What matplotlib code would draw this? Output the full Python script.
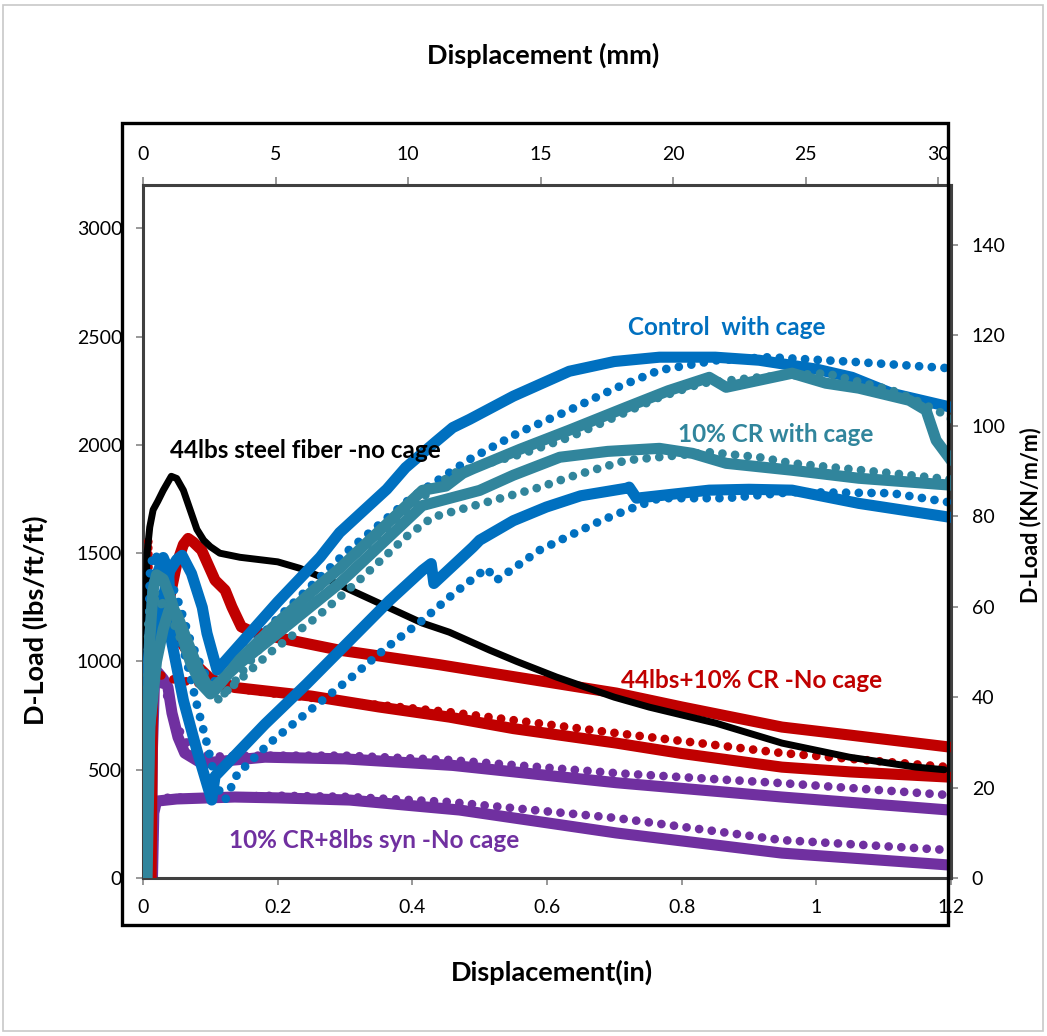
import matplotlib
matplotlib.use("Agg")
import matplotlib.pyplot as plt
from matplotlib.patches import Rectangle

plt.rcParams['font.family'] = ['Lato', 'DejaVu Sans']

# --- data: displacement (in) vs D-load (lbs/ft/ft) ---
steel44_x = [0, 0.002, 0.004, 0.006, 0.01, 0.015, 0.022, 0.03, 0.042, 0.05, 0.06, 0.07, 0.08, 0.09,
             0.1, 0.114, 0.144, 0.2, 0.233, 0.28, 0.341, 0.415, 0.455, 0.515, 0.555, 0.614, 0.7,
             0.752, 0.851, 0.949, 1.049, 1.148, 1.19]
steel44_y = [0, 600, 1200, 1500, 1620, 1700, 1740, 1790, 1855, 1845, 1790, 1700, 1610, 1560,
             1530, 1500, 1481, 1460, 1430, 1370, 1283, 1177, 1135, 1052, 1000, 928, 835,
             789, 715, 623, 558, 512, 500]

cr44_a_x = [0.008, 0.01, 0.013, 0.02, 0.03, 0.04, 0.05, 0.06, 0.067, 0.075, 0.087, 0.107, 0.122,
            0.132, 0.146, 0.16, 0.2, 0.292, 0.44, 0.55, 0.703, 0.8, 0.949, 1.05, 1.197]
cr44_a_y = [0, 900, 1250, 1300, 1230, 1300, 1450, 1540, 1568, 1550, 1514, 1375, 1329,
            1252, 1160, 1140, 1110, 1052, 985, 930, 854, 790, 697, 660, 605]
cr44_b_x = [0.012, 0.014, 0.018, 0.025, 0.035, 0.047, 0.058, 0.08, 0.1, 0.136, 0.25, 0.35, 0.455,
            0.55, 0.703, 0.8, 0.949, 1.05, 1.197]
cr44_b_y = [0, 800, 1150, 1250, 1200, 1145, 1084, 980, 920, 880, 840, 790, 743,
            690, 623, 575, 512, 490, 466]
cr44_dot_x = [0.007, 0.0074, 0.0078, 0.009, 0.015, 0.04, 0.1, 0.2, 0.3, 0.455, 0.703, 0.949, 1.197]
cr44_dot_y = [0, 800, 1568, 1100, 950, 920, 890, 850, 815, 766, 669, 577, 512]

ctrl_a_x = [0.004, 0.01, 0.02, 0.03, 0.04, 0.05, 0.058, 0.072, 0.088, 0.095, 0.11, 0.114, 0.16,
            0.2, 0.263, 0.292, 0.362, 0.39, 0.435, 0.46, 0.485, 0.55, 0.633, 0.7, 0.767, 0.85,
            0.915, 1.0, 1.053, 1.112, 1.2]
ctrl_a_y = [0, 700, 1100, 1300, 1420, 1470, 1490, 1406, 1250, 1130, 960, 974, 1135,
            1275, 1481, 1595, 1795, 1895, 2015, 2080, 2118, 2225, 2340, 2385, 2405, 2405,
            2391, 2350, 2312, 2238, 2174]
ctrl_b_x = [0.004, 0.008, 0.015, 0.03, 0.038, 0.042, 0.06, 0.08, 0.102, 0.107, 0.181, 0.243, 0.366,
            0.415, 0.428, 0.432, 0.49, 0.5, 0.55, 0.599, 0.65, 0.718, 0.722, 0.733, 0.841, 0.9,
            0.964, 1.063, 1.2]
ctrl_b_y = [0, 1000, 1350, 1480, 1420, 1100, 820, 590, 360, 470, 710, 896, 1281,
            1421, 1452, 1360, 1528, 1560, 1650, 1713, 1765, 1800, 1805, 1754, 1791, 1795,
            1791, 1730, 1665]
ctrl_dot_a_x = [0.005, 0.008, 0.01, 0.015, 0.03, 0.05, 0.07, 0.09, 0.11, 0.2, 0.3, 0.4, 0.486,
                0.56, 0.633, 0.7, 0.767, 0.85, 0.93, 1.063, 1.197]
ctrl_dot_a_y = [0, 900, 1400, 1500, 1450, 1300, 1100, 950, 900, 1200, 1500, 1760, 1935,
                2060, 2160, 2260, 2345, 2390, 2405, 2382, 2354]
ctrl_dot_b_x = [0.003, 0.006, 0.01, 0.02, 0.035, 0.05, 0.065, 0.08, 0.095, 0.11, 0.122, 0.14, 0.188,
                0.25, 0.307, 0.36, 0.415, 0.46, 0.51, 0.525, 0.589, 0.633, 0.68, 0.718, 0.767,
                0.866, 0.964, 1.112, 1.197]
ctrl_dot_b_y = [0, 800, 1300, 1470, 1350, 1150, 1000, 800, 620, 420, 360, 480, 623,
                780, 920, 1060, 1190, 1310, 1430, 1375, 1514, 1580, 1650, 1698, 1754,
                1754, 1782, 1777, 1735]

cr10_a_x = [0.005, 0.007, 0.01, 0.015, 0.02, 0.03, 0.04, 0.055, 0.07, 0.085, 0.1, 0.105, 0.144,
            0.2, 0.25, 0.292, 0.35, 0.415, 0.45, 0.475, 0.49, 0.56, 0.633, 0.718, 0.78, 0.841,
            0.866, 0.964, 1.014, 1.063, 1.138, 1.163, 1.178, 1.2]
cr10_a_y = [0, 600, 1100, 1330, 1400, 1380, 1300, 1150, 1000, 900, 850, 860, 1010,
            1180, 1320, 1430, 1600, 1790, 1810, 1869, 1890, 1980, 2068, 2174, 2250, 2312,
            2266, 2331, 2285, 2262, 2206, 2160, 2021, 1929]
cr10_b_x = [0.006, 0.01, 0.02, 0.03, 0.04, 0.05, 0.065, 0.08, 0.095, 0.105, 0.144, 0.2, 0.292,
            0.35, 0.415, 0.5, 0.55, 0.619, 0.69, 0.767, 0.816, 0.866, 0.964, 1.063, 1.2]
cr10_b_y = [0, 700, 1000, 1150, 1250, 1220, 1100, 980, 890, 880, 992, 1130, 1361,
            1530, 1720, 1790, 1860, 1943, 1970, 1984, 1961, 1915, 1883, 1846, 1814]
cr10_dot_a_x = [0.004, 0.006, 0.008, 0.015, 0.03, 0.05, 0.07, 0.09, 0.11, 0.13, 0.2, 0.3, 0.4,
                0.46, 0.564, 0.633, 0.668, 0.767, 0.83, 0.915, 1.014, 1.112, 1.138, 1.187, 1.2]
cr10_dot_a_y = [0, 700, 1200, 1330, 1250, 1150, 990, 880, 820, 880, 1170, 1450, 1720,
                1869, 1960, 2035, 2083, 2220, 2285, 2312, 2331, 2252, 2220, 2146, 2120]
cr10_dot_b_x = [0.005, 0.008, 0.012, 0.02, 0.035, 0.05, 0.07, 0.09, 0.11, 0.12, 0.193, 0.258,
                0.326, 0.39, 0.43, 0.504, 0.589, 0.633, 0.718, 0.841, 0.915, 0.964, 1.112, 1.2]
cr10_dot_b_y = [0, 900, 1250, 1300, 1250, 1150, 1000, 900, 860, 850, 1052, 1205,
                1389, 1574, 1666, 1730, 1804, 1851, 1929, 1966, 1943, 1915, 1869, 1840]

syn_a_x = [0.012, 0.014, 0.017, 0.022, 0.03, 0.037, 0.043, 0.052, 0.062, 0.087, 0.136, 0.181,
           0.3, 0.46, 0.703, 0.949, 1.197]
syn_a_y = [0, 600, 900, 950, 920, 881, 762, 650, 577, 530, 545, 558,
           550, 520, 440, 374, 314]
syn_b_x = [0.014, 0.016, 0.02, 0.05, 0.136, 0.2, 0.307, 0.47, 0.703, 0.949, 1.197]
syn_b_y = [0, 300, 355, 365, 374, 370, 360, 314, 208, 115, 60]
syn_dot_a_x = [0.01, 0.012, 0.015, 0.02, 0.035, 0.05, 0.07, 0.1, 0.15, 0.3, 0.455, 0.703, 0.949, 1.197]
syn_dot_a_y = [0, 700, 1000, 950, 850, 700, 600, 560, 565, 565, 545, 484, 438, 383]
syn_dot_b_x = [0.015, 0.017, 0.03, 0.2, 0.3, 0.455, 0.703, 0.949, 1.197]
syn_dot_b_y = [0, 340, 370, 380, 375, 351, 277, 175, 129]

BLACK, RED, BLUE, TEAL, PURPLE = '#000000', '#C00000', '#0070C0', '#31859C', '#7030A0'
SOLID_LW = 8
DOT_LW = 6.3
DOTS = (0, (0.001, 1.45))

fig = plt.figure(figsize=(10.47, 10.36), dpi=100)
ax = fig.add_axes([0.1366, 0.1525, 0.7717, 0.6689])


def solid(x, y, c, lw=SOLID_LW, z=2):
    ax.plot(x, y, color=c, lw=lw, solid_capstyle='round', solid_joinstyle='round', zorder=z)


def dotted(x, y, c, z=2):
    ax.plot(x, y, color=c, lw=DOT_LW, linestyle=DOTS, dash_capstyle='round', zorder=z)


# purple first, teal last (as stacked in the original)
solid(syn_a_x, syn_a_y, PURPLE, z=2)
solid(syn_b_x, syn_b_y, PURPLE, z=2)
dotted(syn_dot_a_x, syn_dot_a_y, PURPLE, z=2)
dotted(syn_dot_b_x, syn_dot_b_y, PURPLE, z=2)

solid(cr44_a_x, cr44_a_y, RED, z=3)
solid(cr44_b_x, cr44_b_y, RED, z=3)
dotted(cr44_dot_x, cr44_dot_y, RED, z=3)

solid(steel44_x, steel44_y, BLACK, lw=5, z=4)

solid(ctrl_a_x, ctrl_a_y, BLUE, z=5)
solid(ctrl_b_x, ctrl_b_y, BLUE, z=5)
dotted(ctrl_dot_a_x, ctrl_dot_a_y, BLUE, z=5)
dotted(ctrl_dot_b_x, ctrl_dot_b_y, BLUE, z=5)

solid(cr10_a_x, cr10_a_y, TEAL, z=6)
solid(cr10_b_x, cr10_b_y, TEAL, z=6)
dotted(cr10_dot_a_x, cr10_dot_a_y, TEAL, z=6)
dotted(cr10_dot_b_x, cr10_dot_b_y, TEAL, z=6)

# axes
ax.set_xlim(0, 1.2)
ax.set_ylim(0, 3200)
ax.set_xticks([0, 0.2, 0.4, 0.6, 0.8, 1, 1.2])
ax.set_xticklabels(['0', '0.2', '0.4', '0.6', '0.8', '1', '1.2'])
ax.set_yticks(range(0, 3001, 500))
for s in ax.spines.values():
    s.set_color('#404040')
    s.set_linewidth(2.2)
ax.tick_params(axis='x', direction='out', length=5, width=1.2, color='#868686',
               labelsize=14, pad=10)
ax.tick_params(axis='y', direction='out', length=5, width=1.2, color='#868686',
               labelsize=14, pad=10)

top = ax.secondary_xaxis('top', functions=(lambda v: v * 25.4, lambda v: v / 25.4))
top.set_xticks(range(0, 31, 5))
top.tick_params(direction='out', length=6, width=1.2, color='#868686', labelsize=14, pad=10)

right = ax.secondary_yaxis('right', functions=(lambda v: v * 0.04788, lambda v: v / 0.04788))
right.set_yticks(range(0, 141, 20))
right.tick_params(direction='out', length=5, width=1.2, color='#868686', labelsize=14, pad=10)

# series labels
lab = dict(fontsize=17.5, fontweight='bold', va='center', ha='left')
ax.text(0.04, 1975, '44lbs steel fiber -no cage', color=BLACK, zorder=8, **lab)
ax.text(0.721, 2543, 'Control  with cage', color=BLUE, zorder=1, **lab)
ax.text(0.794, 2049, '10% CR with cage', color=TEAL, zorder=1, **lab)
ax.text(0.71, 914, '44lbs+10% CR -No cage', color=RED, zorder=1, **lab)
ax.text(0.128, 175, '10% CR+8lbs syn -No cage', color=PURPLE, zorder=1, **lab)

# axis titles
title = dict(ha='center', va='center', fontsize=19.5, fontweight='bold')
fig.text(543 / 1047, 1 - 55 / 1036, 'Displacement (mm)', **title)
fig.text(552 / 1047, 1 - 972 / 1036, 'Displacement(in)', **title)
fig.text(35 / 1047, 1 - 620 / 1036, 'D-Load (lbs/ft/ft)', rotation=90, **title)
fig.text(1031 / 1047, 1 - 515 / 1036, 'D-Load (KN/m/m)', rotation=90,
         ha='center', va='center', fontsize=15.5, fontweight='bold')

# plot-area frame and outer chart border
fig.patches.append(Rectangle((122 / 1047, 1 - 925 / 1036), (948 - 122) / 1047, (925 - 123) / 1036,
                             transform=fig.transFigure, fill=False, edgecolor='black', lw=2.4))
fig.patches.append(Rectangle((3 / 1047, 1 - 1031 / 1036), 1040 / 1047, 1026 / 1036,
                             transform=fig.transFigure, fill=False, edgecolor='#C8C8C8', lw=1.2))

fig.savefig('out.png', dpi=100)
